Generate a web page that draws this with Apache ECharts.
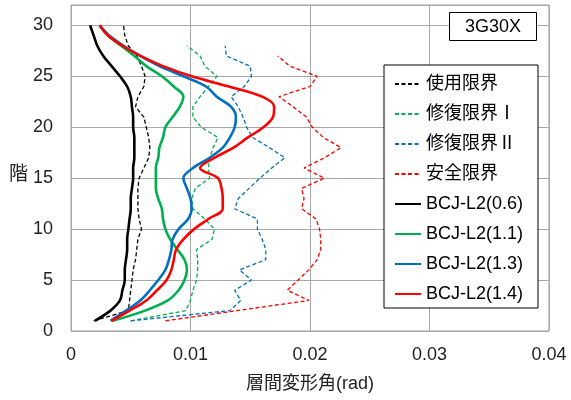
<!DOCTYPE html>
<html>
<head>
<meta charset="utf-8">
<script src="https://cdn.jsdelivr.net/npm/echarts@6/dist/echarts.min.js"></script>
<style>html,body{margin:0;padding:0;background:#fff}#c{width:571px;height:400px}</style>
</head>
<body>
<div id="c"></div>
<script>
// floors 1..30
const floors = [1,2,3,4,5,6,7,8,9,10,11,12,13,14,15,16,17,18,19,20,21,22,23,24,25,26,27,28,29,30];

// limit lines (dashed)
const useLimit = [0.0019,0.0048,0.0049,0.0050,0.0051,0.0052,0.0054,0.0055,0.0056,0.0059,0.0057,0.0056,0.0056,0.0056,0.0057,0.0061,0.0065,0.0066,0.0065,0.0063,0.0061,0.0054,0.0056,0.0061,0.0062,0.0059,0.0055,0.0048,0.0045,0.0044];
const repairLimit1 = [0.0050,0.0096,0.0100,0.0102,0.0105,0.0106,0.0106,0.0105,0.0118,0.0120,0.0112,0.0102,0.0101,0.0104,0.0116,0.0115,0.0116,0.0119,0.0123,0.0109,0.0102,0.0102,0.0108,0.0115,0.0122,0.0112,0.0108,0.0097,null,null];
const repairLimit2 = [0.0050,0.0133,0.0142,0.0137,0.0151,0.0141,0.0163,0.0163,0.0160,0.0156,0.0156,0.0137,0.0140,0.0149,0.0158,0.0168,0.0179,0.0166,0.0152,0.0147,0.0144,0.0140,0.0134,0.0145,0.0151,0.0150,0.0130,0.0129,null,null];
const safetyLimit = [0.0079,0.0139,0.0199,0.0181,0.0190,0.0199,0.0206,0.0209,0.0209,0.0208,0.0205,0.0193,0.0195,0.0193,0.0212,0.0195,0.0212,0.0226,0.0211,0.0202,0.0197,0.0186,0.0174,0.0200,0.0206,0.0183,0.0173,null,null,null];

// response (solid)
const bcj06 = [0.0020,0.0033,0.0041,0.0043,0.0045,0.0045,0.0046,0.0047,0.0047,0.0048,0.0049,0.0050,0.0050,0.0051,0.0052,0.0052,0.0053,0.0053,0.0053,0.0052,0.0052,0.0051,0.0050,0.0047,0.0041,0.0034,0.0027,0.0022,0.0019,0.0016];
const bcj11 = [0.0035,0.0062,0.0081,0.0090,0.0095,0.0097,0.0095,0.0089,0.0083,0.0079,0.0077,0.0076,0.0073,0.0071,0.0071,0.0071,0.0073,0.0074,0.0077,0.0079,0.0085,0.0091,0.0094,0.0086,0.0076,0.0063,0.0053,0.0042,0.0031,0.0024];
const bcj13 = [0.0033,0.0046,0.0058,0.0066,0.0073,0.0079,0.0082,0.0084,0.0085,0.0090,0.0098,0.0101,0.0100,0.0097,0.0094,0.0102,0.0116,0.0127,0.0133,0.0137,0.0138,0.0134,0.0122,0.0113,0.0094,0.0074,0.0058,0.0044,0.0032,0.0024];
const bcj14 = [0.0034,0.0049,0.0063,0.0072,0.0080,0.0084,0.0086,0.0088,0.0094,0.0103,0.0115,0.0127,0.0127,0.0126,0.0123,0.0108,0.0120,0.0136,0.0148,0.0161,0.0169,0.0170,0.0160,0.0132,0.0101,0.0077,0.0058,0.0043,0.0031,0.0024];

const xTicks = [0, 0.01, 0.02, 0.03, 0.04];
const yTicks = [0, 5, 10, 15, 20, 25, 30];

const names = ['使用限界','修復限界Ⅰ','修復限界Ⅱ','安全限界','BCJ-L2(0.6)','BCJ-L2(1.1)','BCJ-L2(1.3)','BCJ-L2(1.4)'];
const colors = ['#000000','#00B050','#0070C0','#FF0000','#000000','#00B050','#0070C0','#FF0000'];
const values = [useLimit, repairLimit1, repairLimit2, safetyLimit, bcj06, bcj11, bcj13, bcj14];

function pairs(arr){
  const out = [];
  arr.forEach((v,i)=>{ if(v!==null) out.push([v, floors[i]]); });
  return out;
}

const series = values.map((arr,i)=>{
  const dashed = i < 4;
  return {
    name: names[i],
    type: 'line',
    data: pairs(arr),
    symbol: 'none',
    smooth: dashed ? false : 0.35,
    lineStyle: {color: colors[i], width: dashed ? 1.3 : 2.6, type: dashed ? [4,2.5] : 'solid'},
    itemStyle: {color: colors[i]},
    z: dashed ? 2 : 3
  };
});

const FONT = '"Liberation Sans", "Noto Sans CJK JP", sans-serif';
const chart = echarts.init(document.getElementById('c'));
chart.setOption({
  animation: false,
  textStyle: {fontFamily: FONT},
  grid: {left: 71, right: 22, top: 5, bottom: 69, show: true, borderColor: '#9a9a9a', borderWidth: 1},
  title: {
    text: '3G30X', left: 449, top: 12,
    borderColor: '#000', borderWidth: 1, padding: [6, 16, 5, 16], backgroundColor: '#fff',
    textStyle: {fontSize: 18, fontWeight: 'normal', color: '#000', fontFamily: FONT}
  },
  legend: {
    orient: 'vertical', left: 384, top: 65,
    padding: [10, 8, 5, 10], itemGap: 12, itemWidth: 26, itemHeight: 14,
    backgroundColor: '#fff', borderColor: '#000', borderWidth: 1,
    itemStyle: {color: 'rgba(0,0,0,0)', borderColor: 'rgba(0,0,0,0)', borderWidth: 0, opacity: 0},
    data: names,
    textStyle: {fontSize: 18, lineHeight: 17, color: '#000', width: 104, fontFamily: FONT}
  },
  xAxis: {
    type: 'value', min: xTicks[0], max: xTicks[xTicks.length-1], interval: 0.01,
    axisLine: {show: false}, axisTick: {show: false},
    splitLine: {lineStyle: {color: '#a8a8a8', width: 1}},
    axisLabel: {fontSize: 18, color: '#222', margin: 15, formatter: v => xTicks.includes(v) ? String(v) : ''},
    name: '層間変形角(rad)', nameLocation: 'middle', nameGap: 44,
    nameTextStyle: {fontSize: 18, color: '#222'}
  },
  yAxis: {
    type: 'value', min: 0, max: 32, interval: 5,
    axisLine: {show: false}, axisTick: {show: false},
    splitLine: {lineStyle: {color: '#a8a8a8', width: 1}},
    axisLabel: {fontSize: 18, color: '#222', margin: 18, showMaxLabel: false, formatter: v => yTicks.includes(v) ? String(v) : ''}
  },
  graphic: [{type: 'text', left: 9, top: 165, style: {text: '階', fontSize: 19, fill: '#222', fontFamily: FONT}}],
  series: series
});
</script>
</body>
</html>
